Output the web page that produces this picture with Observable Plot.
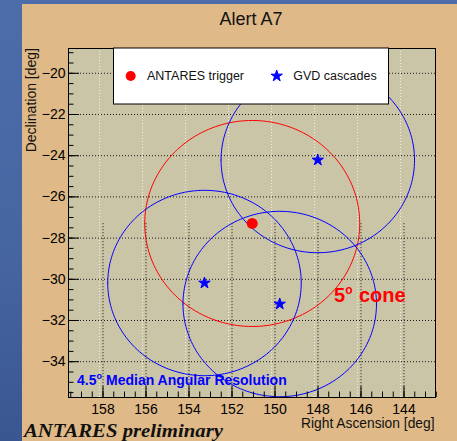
<!DOCTYPE html>
<html>
<head>
<meta charset="utf-8">
<script src="https://cdn.jsdelivr.net/npm/d3@7"></script>
<script src="https://cdn.jsdelivr.net/npm/@observablehq/plot@0.6"></script>
<style>
  html, body { margin: 0; padding: 0; }
  body {
    width: 457px; height: 441px; overflow: hidden; position: relative;
    background: linear-gradient(180deg, #4c6daa 0%, #4666a2 55%, #3a5691 100%);
  }
  #panel { position: absolute; left: 22px; top: 4px; width: 435px; height: 437px; background: #dfb987; }
  #chart { position: absolute; left: 0; top: 0; }
</style>
</head>
<body>
<div id="panel"></div>
<div id="chart"></div>
<script>
// Axis ticks (degrees)
const raTicks = [158, 156, 154, 152, 150, 148, 146, 144];
const decTicks = [-20, -22, -24, -26, -28, -30, -32, -34];
const raMinor = d3.range(142.5, 159.75, 0.5);
const decMinor = d3.range(-35.5, -18.75, 0.5);

// Visible sky window
const raDomain = [159.605, 142.535];
const decDomain = [-35.738, -18.796];

// ANTARES alert position and its 5 degree cone
const trigger = [{ra: 151.06, dec: -27.29}];
const coneRadius = 5;

// Baikal-GVD cascades and their median angular resolution
const cascades = [
  {ra: 148.01, dec: -24.21},
  {ra: 153.28, dec: -30.18},
  {ra: 149.78, dec: -31.20}
];
const resolution = 4.5;

// Lower half of the dark grid, and the shifted light grid
const darkGridTop = -27.3;
const lightGridShift = 0.16;

const W = 457, H = 441;
const mL = 68, mR = 22, mT = 48, mB = 44;
const innerW = W - mL - mR, innerH = H - mT - mB;

// Outline of a circle on the sky (RA/Dec plane)
function ring(c, r, id) {
  return d3.range(0, 361, 2).map(a => {
    const t = a * Math.PI / 180;
    return {id, ra: c.ra + r * Math.cos(t), dec: c.dec + r * Math.sin(t)};
  });
}
const coneRing = ring(trigger[0], coneRadius, "cone");
const cascadeRings = cascades.flatMap((c, i) => ring(c, resolution, "c" + i));

const plot = Plot.plot({
  width: W, height: H,
  marginLeft: mL, marginRight: mR, marginTop: mT, marginBottom: mB,
  style: {background: "transparent", fontFamily: "Liberation Sans, Arial, sans-serif", fontSize: "14px", color: "black", overflow: "visible"},
  x: {domain: raDomain, ticks: raTicks, tickSize: 0, tickPadding: 7, label: null},
  y: {domain: decDomain, ticks: decTicks, tickSize: 0, tickPadding: 3, label: null},
  marks: [
    Plot.frame({fill: "#cbc5a8"}),
    Plot.ruleX(raTicks.map(d => d + lightGridShift), {x: d => d, stroke: "#f4f1e6", strokeDasharray: "1,2", strokeWidth: 1}),
    Plot.ruleX(raTicks, {x: d => d, y1: darkGridTop, y2: decDomain[0], stroke: "#1a1a1a", strokeDasharray: "1,2"}),
    Plot.ruleY(decTicks, {y: d => d, stroke: "#1a1a1a", strokeDasharray: "1,2"}),
    Plot.line(coneRing, {x: "ra", y: "dec", stroke: "#ff0000", strokeWidth: 1, clip: true}),
    Plot.line(cascadeRings, {x: "ra", y: "dec", z: "id", stroke: "#0000ff", strokeWidth: 1, clip: true}),
    Plot.dot(trigger, {x: "ra", y: "dec", r: 5.5, fill: "#ff0000", stroke: "none"}),
    Plot.dot(cascades, {x: "ra", y: "dec", r: 3.6, symbol: "star", fill: "#0000ff", stroke: "#0000ff", strokeWidth: 1}),
    Plot.tickY(decMinor, {y: d => d, insetRight: innerW - 5.5, stroke: "black"}),
    Plot.tickY(decTicks, {y: d => d, insetRight: innerW - 11, stroke: "black"}),
    Plot.tickX(raMinor, {x: d => d, insetTop: innerH - 5.5, stroke: "black"}),
    Plot.tickX(raTicks, {x: d => d, insetTop: innerH - 11, stroke: "black"}),
    Plot.frame({stroke: "black", strokeWidth: 1})
  ]
});
document.getElementById("chart").appendChild(plot);

const svg = d3.select(plot);
const sans = "Liberation Sans, Arial, sans-serif";
const layer = svg.append("g").attr("text-anchor", "start");

// Legend box
const lg = layer.append("g");
lg.append("rect").attr("x", 113.5).attr("y", 48).attr("width", 275).attr("height", 56)
  .attr("fill", "white").attr("stroke", "black").attr("stroke-width", 1);
lg.append("circle").attr("cx", 130.7).attr("cy", 76).attr("r", 5).attr("fill", "#ff0000");
lg.append("text").attr("x", 147).attr("y", 80).attr("font-family", sans).attr("font-size", 12.5)
  .attr("fill", "#111").text("ANTARES trigger");
lg.append("path").attr("transform", "translate(276.7,76)")
  .attr("d", d3.symbol(d3.symbolStar, 40)()).attr("fill", "#0000ff")
  .attr("stroke", "#0000ff").attr("stroke-width", 1);
lg.append("text").attr("x", 293.3).attr("y", 80).attr("font-family", sans).attr("font-size", 12.5)
  .attr("fill", "#111").text("GVD cascades");

// Title and axis titles
layer.append("text").attr("x", 251).attr("y", 25).attr("text-anchor", "middle")
  .attr("font-family", sans).attr("font-size", 18).attr("fill", "#111").text("Alert A7");
layer.append("text").attr("transform", "translate(36,48) rotate(-90)").attr("text-anchor", "end")
  .attr("font-family", sans).attr("font-size", 14).attr("fill", "#111").text("Declination [deg]");
layer.append("text").attr("x", 434.5).attr("y", 427.5).attr("text-anchor", "end")
  .attr("font-family", sans).attr("font-size", 13.8).attr("fill", "#111").text("Right Ascension [deg]");

// Annotations
const cone = layer.append("text").attr("x", 334).attr("y", 302).attr("font-family", sans)
  .attr("font-weight", "bold").attr("font-size", 20).attr("fill", "#ff0000");
cone.append("tspan").text("5");
cone.append("tspan").attr("font-size", 12).attr("dy", -8).text("o");
cone.append("tspan").attr("x", 359).attr("dy", 8).text("cone");

const res = layer.append("text").attr("x", 77).attr("y", 384.5).attr("font-family", sans)
  .attr("font-weight", "bold").attr("font-size", 14).attr("fill", "#0000ff");
res.append("tspan").text("4.5");
res.append("tspan").attr("font-size", 9).attr("dy", -6).text("o");
res.append("tspan").attr("x", 106).attr("dy", 6).text("Median Angular Resolution");

layer.append("text").attr("x", 24).attr("y", 437).attr("font-family", "Liberation Serif, 'DejaVu Serif', serif")
  .attr("font-weight", "bold").attr("font-style", "italic").attr("font-size", 18)
  .attr("textLength", 199).attr("lengthAdjust", "spacingAndGlyphs").attr("fill", "#111")
  .text("ANTARES preliminary");
</script>
</body>
</html>
